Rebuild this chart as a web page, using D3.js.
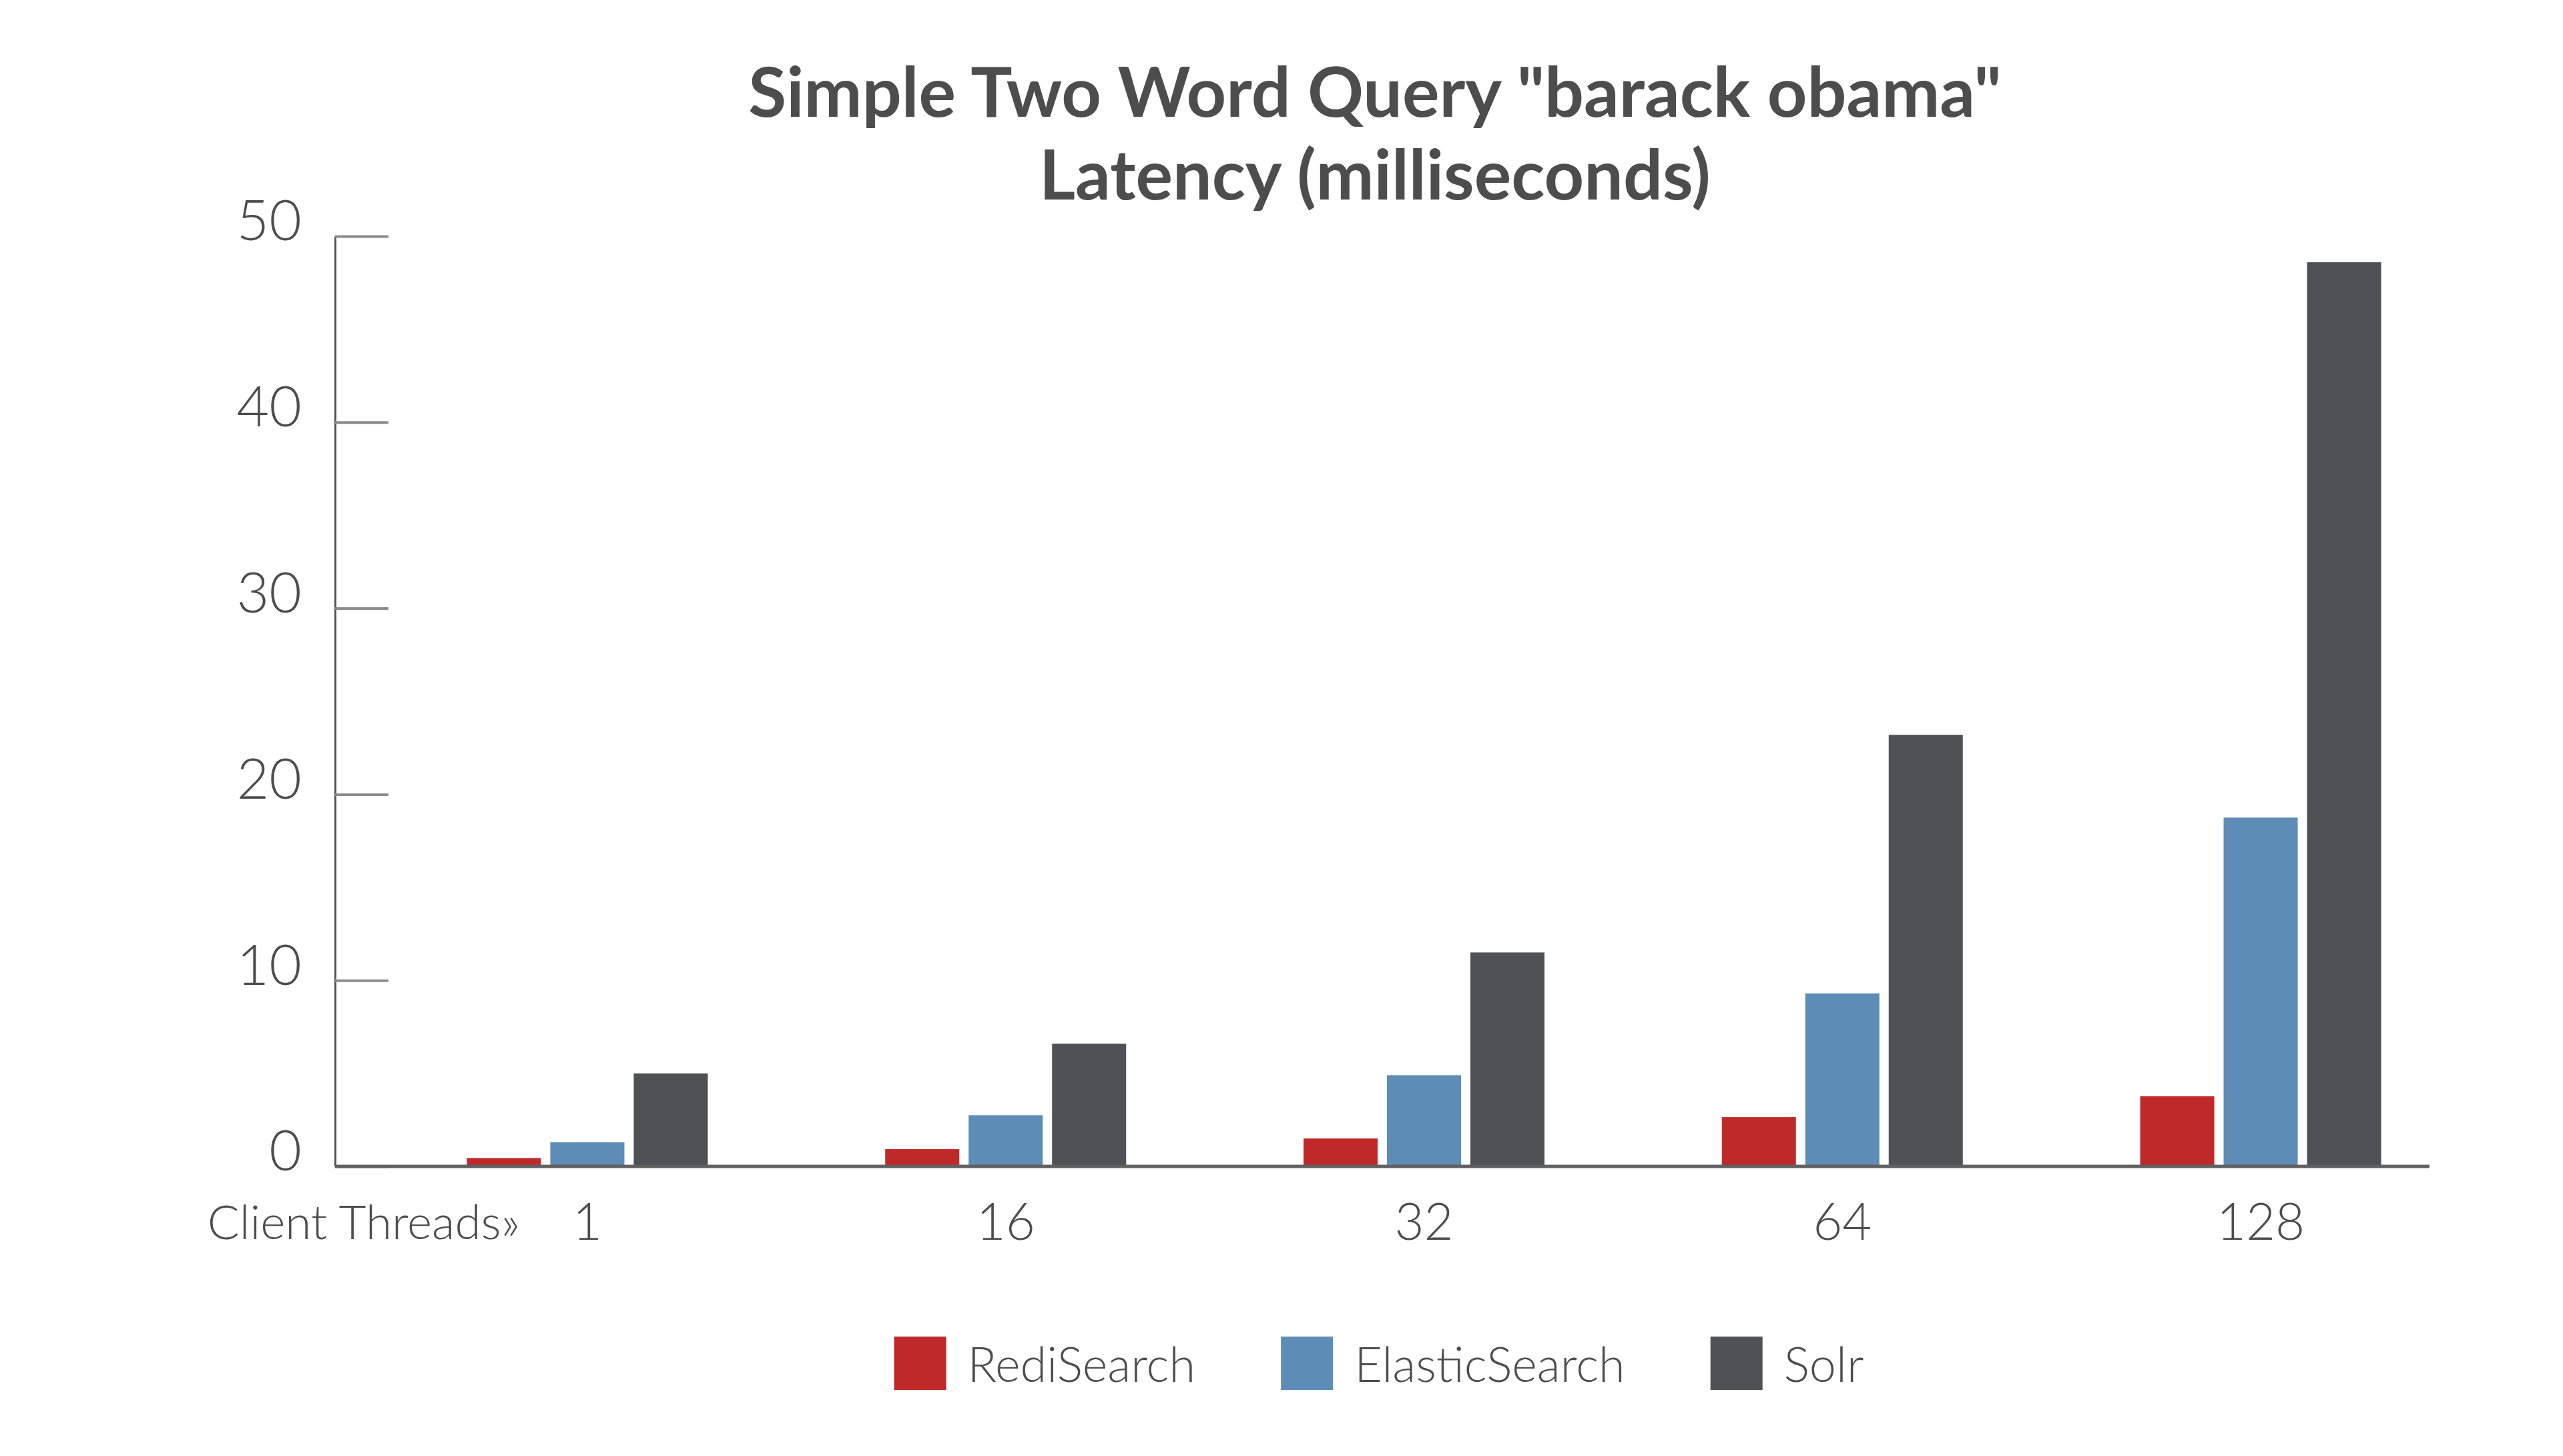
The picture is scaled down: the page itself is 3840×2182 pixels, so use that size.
<!DOCTYPE html>
<html>
<head>
<meta charset="utf-8">
<script src="https://cdn.jsdelivr.net/npm/d3@7/dist/d3.min.js"></script>
<style>
  html, body { margin: 0; padding: 0; background: #ffffff; }
  svg { display: block; }
  text { font-family: Lato, "Open Sans", sans-serif; }
</style>
</head>
<body>
<svg id="chart" width="3840" height="2182"></svg>
<script>
// ---- data ----
const categories = ["1", "16", "32", "64", "128"];
const seriesNames = ["RediSearch", "ElasticSearch", "Solr"];
const rediSearch = [0.45, 0.93, 1.5, 2.65, 3.77];
const elasticSearch = [1.3, 2.75, 4.9, 9.3, 18.75];
const solr = [5.0, 6.6, 11.5, 23.2, 48.6];
const yTicks = [0, 10, 20, 30, 40, 50];
const titleLines = ["Simple Two Word Query \"barack obama\"", "Latency (milliseconds)"];
const xAxisPrefix = "Client Threads\u00bb";

const seriesValues = [rediSearch, elasticSearch, solr];
const colors = ["#c0292a", "#5d8db6", "#4f5153"];

const svg = d3.select("#chart");
const textColor = "#4d4d4d";

// ---- scales ----
const y = d3.scaleLinear().domain([0, 50]).range([1748, 354]);
const x0 = d3.scaleBand().domain(categories).range([566.6, 3700.4]).paddingInner(0).paddingOuter(0);
const groupWidth = 361;
const x1 = d3.scaleBand().domain(seriesNames).range([0, groupWidth]).paddingInner(0.112).paddingOuter(0);
const color = d3.scaleOrdinal().domain(seriesNames).range(colors);

const axisLeftX = 502;
const axisRightX = 3640;

// ---- title ----
svg.append("g").selectAll("text").data(titleLines).join("text")
  .attr("x", 2060)
  .attr("y", (d, i) => 175 + i * 124)
  .attr("text-anchor", "middle")
  .attr("font-size", 104)
  .attr("font-weight", 700)
  .attr("fill", textColor)
  .text(d => d);

// ---- y axis ----
const yAxis = d3.axisLeft(y)
  .tickValues(yTicks)
  .tickSizeInner(-80)
  .tickSizeOuter(0)
  .tickPadding(50)
  .tickFormat(d3.format("d"));

const gy = svg.append("g").attr("transform", `translate(${axisLeftX},0)`).call(yAxis);
gy.select(".domain").attr("stroke", "#555").attr("stroke-width", 3);
gy.selectAll(".tick line").attr("stroke", "#8c8c8c").attr("stroke-width", 4);
gy.selectAll(".tick text")
  .attr("fill", textColor)
  .attr("font-size", 84)
  .attr("font-weight", 300)
  .attr("dy", "0.07em");

// ---- bars ----
const groups = svg.append("g").selectAll("g").data(categories).join("g")
  .attr("transform", c => `translate(${x0(c) + (x0.bandwidth() - groupWidth) / 2},0)`);

groups.selectAll("rect")
  .data((c, ci) => seriesNames.map((s, si) => ({ s, v: seriesValues[si][ci] })))
  .join("rect")
  .attr("x", d => x1(d.s))
  .attr("width", x1.bandwidth())
  .attr("y", d => y(d.v))
  .attr("height", d => y(0) - y(d.v))
  .attr("fill", d => color(d.s));

// ---- baseline ----
svg.append("line")
  .attr("x1", axisLeftX).attr("x2", axisRightX)
  .attr("y1", y(0)).attr("y2", y(0))
  .attr("stroke", "#606060").attr("stroke-width", 5);

// ---- x axis labels ----
const xAxis = d3.axisBottom(x0).tickSize(0).tickPadding(56);
const gx = svg.append("g").attr("transform", `translate(0,${y(0)})`).call(xAxis);
gx.select(".domain").remove();
gx.selectAll(".tick text")
  .attr("fill", textColor)
  .attr("font-size", 76)
  .attr("font-weight", 300);

svg.append("text")
  .attr("x", 779)
  .attr("y", 1857)
  .attr("text-anchor", "end")
  .attr("font-size", 71)
  .attr("font-weight", 300)
  .attr("fill", textColor)
  .text(xAxisPrefix);

// ---- legend ----
const legend = svg.append("g");
const sw = 78, sh = 80, textGap = 32, itemGap = 128;
const items = legend.selectAll("g").data(seriesNames).join("g");
items.append("rect").attr("width", sw).attr("height", sh).attr("y", 2003).attr("fill", d => color(d));
items.append("text")
  .attr("x", sw + textGap)
  .attr("y", 2071)
  .attr("font-size", 72)
  .attr("font-weight", 300)
  .attr("fill", textColor)
  .text(d => d);
let cursor = 0;
const offsets = [];
items.each(function() {
  const w = d3.select(this).select("text").node().getComputedTextLength();
  offsets.push(cursor);
  cursor += sw + textGap + w + itemGap;
});
const total = cursor - itemGap;
const startX = 2066 - total / 2;
items.attr("transform", (d, i) => `translate(${startX + offsets[i]},0)`);
</script>
</body>
</html>
